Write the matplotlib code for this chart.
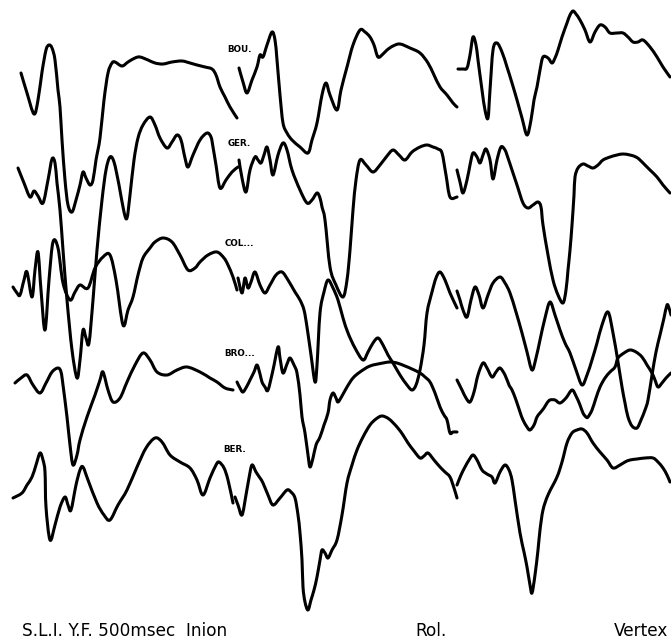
import matplotlib
matplotlib.use("Agg")
import matplotlib.pyplot as plt
import numpy as np
from matplotlib.path import Path
from matplotlib.patches import PathPatch

# ---- traces (horizontal position, vertical position; image-like units, y down) ----
# Inion column
bou_inion_x = [21,27,34,38,42,46,49,52,55,58,60,62,65,68,72,76,80,83,86,90,93,96,100,104,108,112,115,122,128,135,140,148,155,163,172,182,190,197,205,212,216,220,225,230,237]
bou_inion_y = [73,93,114,100,72,50,45,48,60,90,107,140,180,205,212,200,185,172,178,185,180,160,138,100,73,63,62,66,62,58,57,60,63,64,62,61,63,65,67,69,75,87,97,107,118]

ger_inion_x = [18,24,30,34,38,43,48,52,55,57,60,63,67,72,77,80,83,86,89,93,97,102,106,110,114,119,124,127,130,134,138,143,150,155,160,167,172,177,181,185,188,193,200,207,211,213,216,220,226,232,238]
ger_inion_y = [168,183,197,191,196,203,180,159,163,183,210,250,300,350,378,360,330,338,343,300,250,200,170,157,162,185,212,218,195,160,138,125,117,125,138,148,142,135,140,158,167,155,140,133,137,147,165,188,180,172,167]

col_inion_x = [13,17,20,24,27,32,35,38,41,45,49,53,58,63,70,75,80,88,95,103,110,116,123,128,133,138,143,150,155,163,172,180,188,195,200,208,217,224,228,233,237]
col_inion_y = [287,293,295,280,272,297,270,252,290,330,280,242,248,283,300,292,285,288,268,257,255,280,325,310,297,275,258,248,242,238,242,255,270,268,262,255,252,258,265,277,290]

bro_inion_x = [15,21,27,33,40,46,52,58,61,63,67,70,73,77,80,87,95,100,103,108,113,120,127,135,143,150,157,167,177,187,200,210,217,225,233]
bro_inion_y = [383,378,375,385,393,383,372,368,372,385,417,445,465,455,440,417,395,380,372,390,402,398,382,365,353,360,372,375,370,367,372,378,382,388,390]

ber_inion_x = [13,22,27,32,36,40,43,45,46,50,55,60,65,68,71,76,80,83,88,97,104,110,118,127,137,146,155,162,170,180,190,197,203,210,216,219,224,228,233]
ber_inion_y = [498,493,485,477,465,453,460,472,507,540,525,507,497,505,510,485,470,467,480,503,515,520,505,490,467,448,438,442,455,462,468,480,495,478,465,462,468,480,503]

# Rol. column
bou_rol_x = [239,243,247,252,257,260,263,267,272,275,277,280,283,287,292,300,308,312,317,322,326,330,337,341,347,353,360,365,370,374,378,383,387,393,400,410,420,428,434,440,447,453,457]
bou_rol_y = [68,82,93,80,67,55,57,45,32,40,60,95,123,133,140,147,153,140,123,95,83,95,110,90,67,45,30,32,37,45,57,54,50,46,44,48,53,63,75,87,95,103,107]

ger_rol_x = [239,242,246,250,255,258,261,264,267,270,273,278,283,287,292,300,307,312,317,320,322,325,330,336,343,347,350,353,356,360,366,373,380,387,393,399,405,412,420,427,433,438,442,446,450,457]
ger_rol_y = [160,178,192,170,157,160,163,155,147,160,175,155,143,150,170,190,203,200,193,198,207,220,267,285,297,280,250,210,180,160,165,172,165,156,150,155,160,152,147,145,147,149,153,175,197,197]

col_rol_x = [238,242,245,248,251,255,260,265,270,276,282,288,295,300,304,307,311,315,317,320,324,328,333,338,343,348,355,363,368,373,378,383,388,393,400,407,412,416,420,424,427,432,436,440,445,450,457]
col_rol_y = [278,293,278,288,282,272,285,293,285,275,272,280,292,300,310,327,355,382,365,313,292,280,288,300,318,333,348,360,352,343,338,345,355,363,375,385,390,385,370,345,313,292,278,272,280,293,308]

bro_rol_x = [237,240,243,247,250,254,257,260,262,265,268,273,278,280,283,287,290,294,297,300,302,305,308,310,313,316,320,324,328,330,333,336,338,342,347,353,360,370,383,390,397,405,412,420,425,430,435,440,444,447,450,453,457]
bro_rol_y = [382,388,392,386,380,372,365,374,382,387,390,370,347,358,373,364,358,365,373,395,417,433,455,467,458,445,437,425,413,400,393,398,402,396,387,378,372,366,363,362,363,366,369,373,377,382,393,407,415,420,433,432,432]

ber_rol_x = [235,238,242,246,249,252,256,260,263,268,273,280,287,291,295,298,300,302,303,305,308,311,314,317,320,322,325,328,332,337,342,347,352,357,363,370,376,382,389,397,403,408,414,420,424,428,434,440,445,450,454,457]
ber_rol_y = [497,505,515,495,478,465,472,478,483,495,505,498,490,492,498,515,533,560,587,602,610,600,590,577,560,550,553,558,550,540,515,483,465,450,437,425,419,416,419,427,435,443,451,458,456,453,460,467,472,477,488,498]

# Vertex column
bou_vertex_x = [458,463,467,470,473,476,478,482,485,488,490,493,497,502,507,512,517,522,527,531,534,537,540,543,548,552,555,558,562,567,570,573,576,580,585,590,595,600,605,610,617,623,628,633,638,643,650,657,663,670]
bou_vertex_y = [69,69,68,55,37,45,60,90,110,118,90,50,43,52,67,83,100,118,135,120,100,87,70,57,58,63,58,50,37,23,15,11,14,20,30,42,32,25,27,33,33,33,37,42,42,40,47,57,67,77]

ger_vertex_x = [457,460,463,467,470,473,477,480,483,486,490,493,497,501,505,508,512,517,523,528,533,538,541,543,548,553,558,563,566,568,570,572,574,575,578,583,588,593,598,603,610,617,623,630,636,640,645,650,657,663,670]
ger_vertex_y = [170,182,193,180,165,153,157,163,155,149,160,179,160,147,150,158,170,185,203,208,205,202,207,225,255,280,295,303,290,270,250,225,195,177,168,164,166,168,165,160,157,155,154,155,157,160,165,170,177,185,193]

col_vertex_x = [457,460,463,467,471,475,479,483,488,493,500,505,510,516,522,527,532,536,540,545,550,555,560,565,570,576,582,587,592,597,602,608,613,618,622,625,628,632,637,641,645,648,652,656,660,664,667,669,671]
col_vertex_y = [291,300,310,317,300,287,295,308,295,283,277,283,293,312,333,352,370,358,340,318,302,315,330,343,353,370,385,375,360,343,325,312,333,362,387,403,417,426,428,420,410,400,375,352,335,318,305,308,315]

bro_vertex_x = [457,462,466,470,474,478,483,487,492,496,500,505,509,512,516,520,523,527,530,534,537,540,544,547,550,555,560,566,572,576,580,583,586,588,592,596,600,605,610,615,618,624,630,636,642,647,652,655,658,662,666,671]
bro_vertex_y = [380,390,398,402,392,375,363,368,377,372,368,375,385,390,400,412,420,427,430,425,417,413,408,403,400,400,403,398,390,396,405,413,417,417,410,398,387,378,372,367,358,353,350,352,357,365,373,380,387,383,378,373]

ber_vertex_x = [457,461,465,469,473,477,482,487,492,495,500,505,509,512,515,520,524,527,530,532,535,538,540,543,548,557,562,567,572,577,582,587,593,600,607,613,620,625,630,637,645,653,658,663,667,670]
ber_vertex_y = [485,475,467,460,455,460,470,474,477,483,472,465,470,480,500,533,552,567,585,593,575,550,530,510,495,477,462,443,433,430,429,433,443,452,460,468,465,462,460,459,458,458,462,468,475,482]

traces = [
    (bou_inion_x, bou_inion_y), (ger_inion_x, ger_inion_y), (col_inion_x, col_inion_y),
    (bro_inion_x, bro_inion_y), (ber_inion_x, ber_inion_y),
    (bou_rol_x, bou_rol_y), (ger_rol_x, ger_rol_y), (col_rol_x, col_rol_y),
    (bro_rol_x, bro_rol_y), (ber_rol_x, ber_rol_y),
    (bou_vertex_x, bou_vertex_y), (ger_vertex_x, ger_vertex_y), (col_vertex_x, col_vertex_y),
    (bro_vertex_x, bro_vertex_y), (ber_vertex_x, ber_vertex_y),
]

subject_labels = ["BOU.", "GER.", "COL...", "BRO...", "BER."]
subject_label_x = [227, 228, 225, 224, 223]
subject_label_y = [50, 143, 243, 353, 450]

footer_texts = ["S.L.I. Y.F. 500msec  Inion", "Rol.", "Vertex"]
footer_x = [22, 415, 668]
footer_ha = ["left", "left", "right"]


def smooth_path(xs, ys):
    """Cubic Bezier path through the points (Catmull-Rom style tangents)."""
    p = np.column_stack([xs, ys]).astype(float)
    n = len(p)
    verts = [p[0]]
    codes = [Path.MOVETO]
    for i in range(n - 1):
        p0 = p[i - 1] if i > 0 else p[i]
        p1 = p[i]
        p2 = p[i + 1]
        p3 = p[i + 2] if i + 2 < n else p[i + 1]
        c1 = p1 + (p2 - p0) / 6.0
        c2 = p2 - (p3 - p1) / 6.0
        verts += [c1, c2, p2]
        codes += [Path.CURVE4, Path.CURVE4, Path.CURVE4]
    return Path(verts, codes)


fig = plt.figure(figsize=(6.71, 6.41), dpi=100)
ax = fig.add_axes([0, 0, 1, 1])
ax.set_xlim(0, 671)
ax.set_ylim(641, 0)
ax.axis("off")

for xs, ys in traces:
    ax.add_patch(PathPatch(smooth_path(xs, ys), facecolor="none",
                           edgecolor="black", lw=2.2,
                           joinstyle="round", capstyle="round"))

for lab, lx, ly in zip(subject_labels, subject_label_x, subject_label_y):
    ax.text(lx, ly, lab, fontsize=6.3, fontweight="bold", family="DejaVu Sans",
            ha="left", va="center", color="black")

for t, fx, ha in zip(footer_texts, footer_x, footer_ha):
    ax.text(fx, 631, t, fontsize=12.2, family="DejaVu Sans", ha=ha,
            va="center", color="black")

fig.savefig("out.png", dpi=100, facecolor="white")
